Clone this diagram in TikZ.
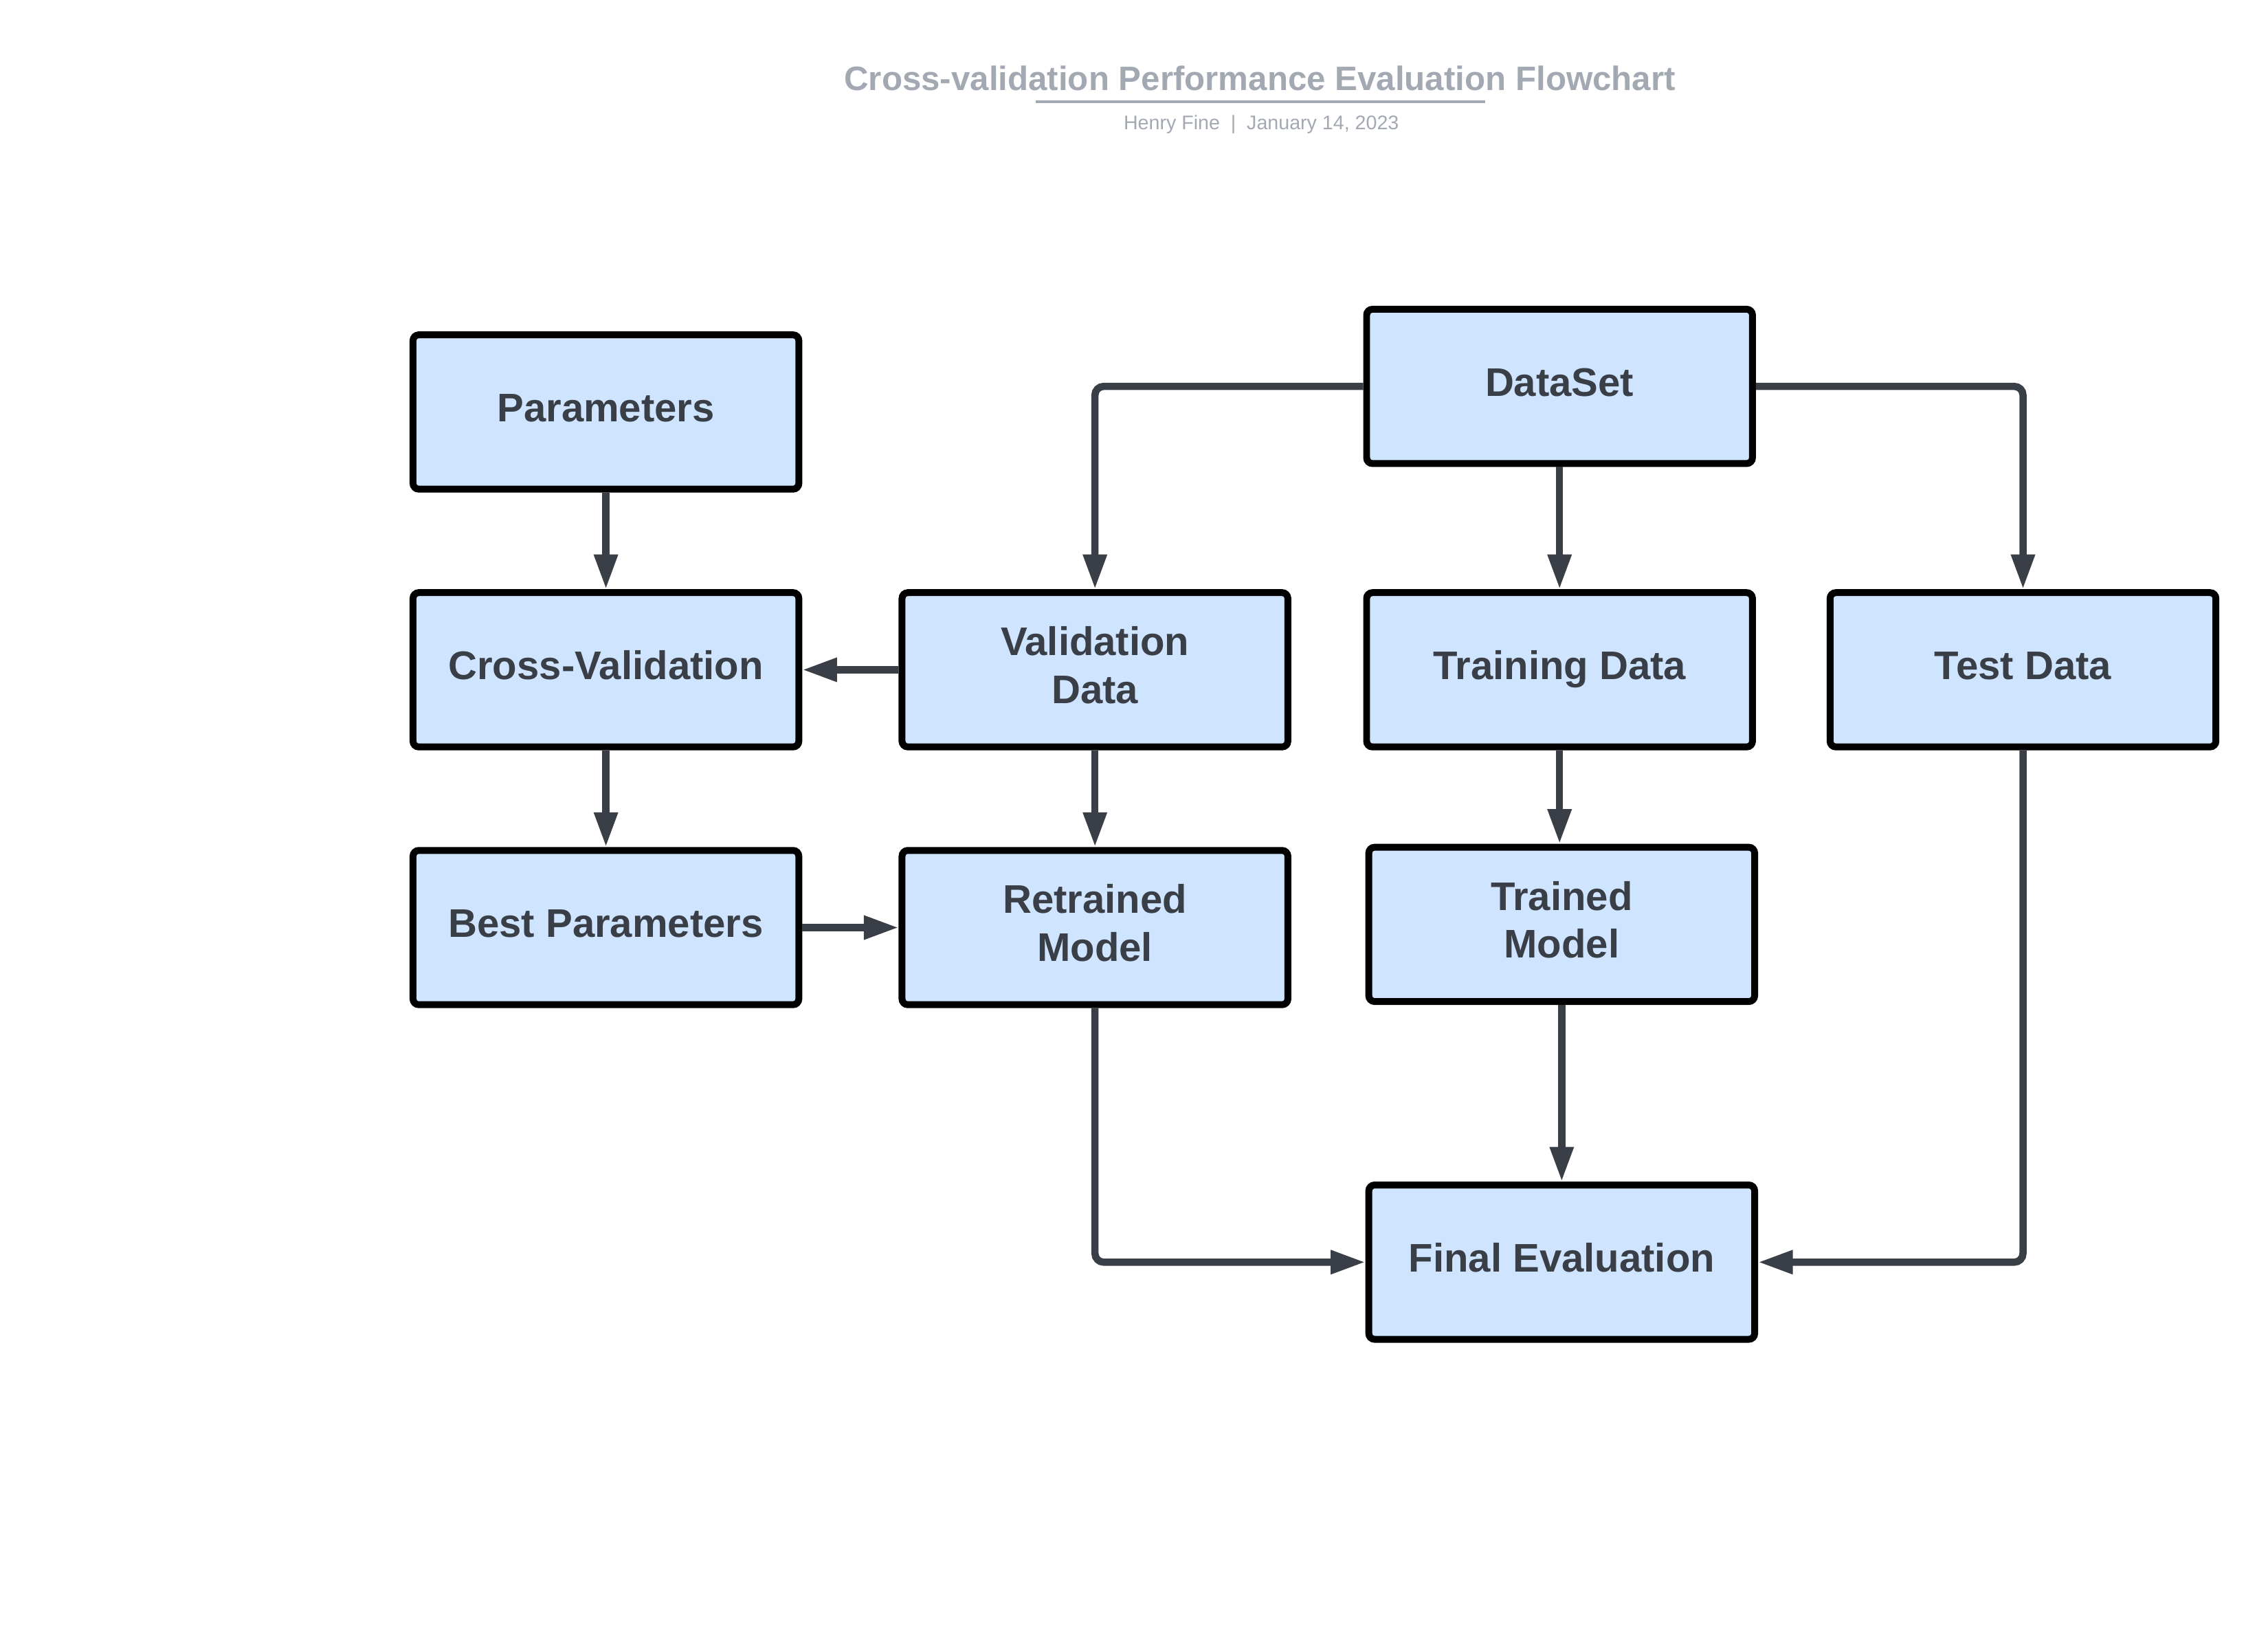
\documentclass[tikz,border=0pt]{standalone}
\usepackage{fontspec}
\setmainfont{Liberation Sans}
\usepackage{xcolor}
\usepackage{tikz}
\usetikzlibrary{arrows.meta, positioning, calc}
\definecolor{boxblue}{RGB}{207,228,255}
\definecolor{linegrey}{RGB}{58,63,71}
\definecolor{titlegrey}{RGB}{163,169,178}
\tikzstyle{box} = [draw=black, line width=4.75pt, fill=boxblue, rounded corners=4pt, minimum width=266.75pt, minimum height=106.65pt, align=center, text=linegrey, text height=20.7pt, text depth=7.5pt, font=\fontsize{27.6}{33}\selectfont\bfseries]
\tikzstyle{twoline} = [text height=53.7pt]
\tikzstyle{arrow} = [draw=linegrey, line width=5pt, rounded corners=6pt, -{Triangle[length=24pt,width=15.5pt]}]

\begin{document}
\begin{tikzpicture}[x=1pt, y=-1pt]
        \useasboundingbox (0,0) rectangle (1568,1141.3);
        % title
        \node[text=titlegrey, font=\fontsize{23.4}{28}\selectfont\bfseries] (title) at (871,54) {Cross-validation Performance Evaluation Flowchart};
        \draw[titlegrey, line width=2pt] (716,70.5) -- (1027,70.5);
        \node[text=titlegrey, font=\fontsize{13.6}{16}\selectfont] (subtitle) at (872,86) {Henry Fine~~\textbar~~January 14, 2023};
        % boxes
        \node[box] (params) at (418.9,284.8) {Parameters};
        \node[box] (crossval) at (418.9,463) {Cross-Validation};
        \node[box] (bestparams) at (418.9,641.2) {Best Parameters};
        \node[box, twoline] (valdata) at (757,463) {Validation\\Data};
        \node[box, twoline] (retrained) at (757,641.2) {Retrained\\Model};
        \node[box] (dataset) at (1078.2,267.1) {DataSet};
        \node[box] (trainingdata) at (1078.2,463) {Training Data};
        \node[box, twoline] (trainedmodel) at (1079.7,639) {Trained\\Model};
        \node[box] (testdata) at (1398.6,463) {Test Data};
        \node[box] (finaleval) at (1079.7,872.5) {Final Evaluation};
        % connectors
        \draw[arrow] (params) -- (crossval);
        \draw[arrow] (valdata) -- (crossval);
        \draw[arrow] (crossval) -- (bestparams);
        \draw[arrow] (bestparams) -- (retrained);
        \draw[arrow] (valdata) -- (retrained);
        \draw[arrow] (dataset.west) -| (valdata.north);
        \draw[arrow] (dataset) -- (trainingdata);
        \draw[arrow] (dataset.east) -| (testdata.north);
        \draw[arrow] (trainingdata.south) -- (trainingdata.south |- trainedmodel.north);
        \draw[arrow] (trainedmodel) -- (finaleval);
        \draw[arrow] (retrained.south) |- (finaleval.west);
        \draw[arrow] (testdata.south) |- (finaleval.east);
\end{tikzpicture}
\end{document}
